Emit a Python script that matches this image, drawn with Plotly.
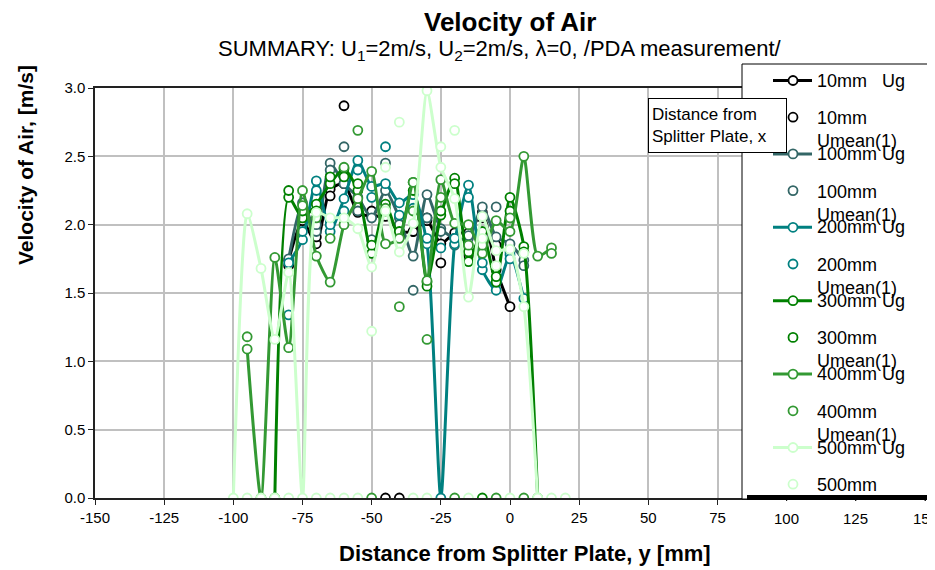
import plotly.graph_objects as go

N = None
y_mm = [-100, -95, -90, -85, -80, -75, -70, -65, -60, -55, -50, -45, -40,
        -35, -30, -25, -20, -15, -10, -5, 0, 5, 10, 15, 20]

ug_10 = [N, N, N, N, 1.74, 2.03, 1.86, 2.26, 2.30, 2.09, 2.06, 2.06, 1.95,
         1.95, 2.03, 1.86, 1.94, 1.94, 2.09, 1.67, 1.40, N, N, N, N]
um_10 = [N, N, N, N, 1.70, 2.08, 1.91, 2.21, 2.87, 2.15, 2.10, 0, 0,
         1.95, 2.05, 1.72, 1.90, 1.77, 2.05, 1.85, N, N, N, N, N]
ug_100 = [N, N, N, N, 1.75, 2.16, 1.95, 2.45, 2.30, 2.20, 2.05, 2.25, 2.05,
          1.77, 2.22, 1.97, 1.90, 1.90, 2.13, 1.91, 1.86, 1.74, N, N, N]
um_100 = [N, N, N, N, N, 2.07, 2.00, 2.40, 2.57, 2.10, 1.89, 2.45, 2.00,
          1.52, 2.05, 1.95, 1.85, 1.92, 1.91, 2.13, 1.80, 1.70, N, N, N]
ug_200 = [N, N, N, N, 1.72, 1.89, 2.32, 1.95, 2.19, 2.47, 2.28, 2.30, 2.16,
          2.22, 1.86, 0, 1.86, 2.29, 1.67, 1.52, 1.78, 1.46, N, N, N]
um_200 = [N, N, N, N, 1.34, 1.95, 2.25, 2.00, 2.10, 2.40, 2.20, 2.57, 2.07,
          2.12, 1.90, 1.83, 1.90, 2.20, 1.72, 1.58, 1.75, N, N, N, N]
ug_300 = [N, N, N, 0, 2.20, 2.05, 2.15, 2.30, 2.41, 2.25, 1.79, 2.15, 1.91,
          2.31, 1.58, 2.07, 2.34, 1.73, 1.95, 1.58, 2.20, 1.84, 0, N, N]
um_300 = [N, N, N, N, 2.25, 2.10, 2.10, 2.35, 2.35, 2.30, 1.85, 2.10, 1.95,
          2.25, 1.55, 2.10, 2.30, 1.80, 0, 1.62, 2.10, 1.80, N, N, N]
ug_400 = [N, 1.09, 0, 1.76, 1.10, 2.25, 1.77, 1.58, 2.00, 2.19, 2.39, 1.86, 1.90,
          2.31, 1.59, 2.33, 2.01, 2.00, 1.79, 2.03, 1.95, 2.50, 1.77, 1.83, N]
um_400 = [N, 1.18, N, N, N, 2.14, 2.05, 1.90, 2.42, 2.69, 0, 2.12, 1.40,
          2.10, 1.16, 2.20, 0, 1.85, 1.85, 0, 2.05, 0, N, 1.79, N]
ug_500 = [0, 2.08, 1.68, 1.16, 1.65, 0, 2.09, 2.05, 2.05, 1.97, 1.69, 2.10, 1.80,
          2.01, 2.98, 2.42, 2.19, 1.47, 2.06, 1.81, 1.82, 1.40, 0, N, N]
um_500 = [N, 0, 0, 0, 0, N, 0, 0, 0, 0, 1.22, 2.42, 2.75,
          0, 0, 2.57, 2.69, 0, 1.90, 1.70, 0, 1.79, 0, 0, 0]

x_ticks = [-150, -125, -100, -75, -50, -25, 0, 25, 50, 75, 100, 125, 150]
x_tick_text = ["-150", "-125", "-100", "-75", "-50", "-25", "0", "25", "50",
               "75", "100", "125", "150"]

series = [
    ("10mm\u00a0\u00a0 Ug", ug_10, "#000000", True),
    ("10mm<br>Umean(1)", um_10, "#000000", False),
    ("100mm Ug", ug_100, "#336666", True),
    ("100mm<br>Umean(1)", um_100, "#336666", False),
    ("200mm Ug", ug_200, "#008080", True),
    ("200mm<br>Umean(1)", um_200, "#008080", False),
    ("300mm Ug", ug_300, "#008000", True),
    ("300mm<br>Umean(1)", um_300, "#008000", False),
    ("400mm Ug", ug_400, "#339933", True),
    ("400mm<br>Umean(1)", um_400, "#339933", False),
    ("500mm Ug", ug_500, "#CCFFCC", True),
    ("500mm<br>Umean(1)", um_500, "#CCFFCC", False),
]

FONT = "Liberation Sans, Arial, sans-serif"
OFF = 8                       # page body margin
W, H = 935 - OFF, 570 - OFF
# plot area in page pixels
P_L, P_R, P_T, P_B = 95, 925, 88, 498
L, R, T, B = P_L - OFF, W - (P_R - OFF), P_T - OFF, H - (P_B - OFF)
PW, PH = W - L - R, H - T - B
LEG_X = 742                   # page x of legend box left edge


def px(xp):   # page x pixel -> paper
    return (xp - OFF - L) / PW


def py(yp):   # page y pixel -> paper
    return (H - B - (yp - OFF)) / PH


def data_to_page_x(v):
    return P_L + (v + 150) / 300 * (P_R - P_L)


under_legend = [data_to_page_x(tv) > LEG_X - 15 for tv in x_ticks]
axis_tick_text = ["" if u else t for t, u in zip(x_tick_text, under_legend)]

fig = go.Figure()
for name, vals, col, is_line in series:
    xs = [x for x, v in zip(y_mm, vals) if v is not None]
    ys = [v for v in vals if v is not None]
    fig.add_trace(go.Scatter(
        x=xs, y=ys, name=name,
        mode="lines+markers" if is_line else "markers",
        line=dict(color=col, width=3, shape="spline", smoothing=0.6),
        marker=dict(symbol="circle", size=9, color="white",
                    line=dict(color=col, width=1.8)),
        showlegend=False,
    ))

shapes = []
shapes.append(dict(type="line", xref="x", yref="y", x0=0, x1=0, y0=0, y1=3,
                   line=dict(color="#505050", width=1.3, dash="dash"), layer="below"))
for yv in [0.5, 1.0, 1.5, 2.0, 2.5]:
    shapes.append(dict(type="line", xref="x", yref="y", x0=-1.3, x1=0, y0=yv, y1=yv,
                       line=dict(color="#303030", width=1.2), layer="below"))

# custom legend box
shapes.append(dict(type="rect", xref="paper", yref="paper",
                   x0=px(LEG_X), x1=px(950), y0=py(499), y1=py(64),
                   fillcolor="white", line=dict(color="black", width=1), layer="above"))
annotations = []
cy0, step = 80.5, 36.7
r = 4.5
LF = dict(family=FONT, size=18, color="black")
for i, (name, vals, col, is_line) in enumerate(series):
    cy = cy0 + i * step
    if is_line:
        shapes.append(dict(type="line", xref="paper", yref="paper",
                           x0=px(773), x1=px(812), y0=py(cy), y1=py(cy),
                           line=dict(color=col, width=3), layer="above"))
    shapes.append(dict(type="circle", xref="paper", yref="paper",
                       x0=px(793 - r), x1=px(793 + r), y0=py(cy + r), y1=py(cy - r),
                       fillcolor="white", line=dict(color=col, width=1.8), layer="above"))
    if is_line:
        annotations.append(dict(xref="paper", yref="paper", x=px(815), y=py(cy),
                                xanchor="left", yanchor="middle", text=name, showarrow=False,
                                align="left", font=LF))
    else:
        annotations.append(dict(xref="paper", yref="paper", x=px(815), y=py(cy - 11),
                                xanchor="left", yanchor="top", text=name, showarrow=False,
                                align="left", font=LF))

# white cover under the legend (the legend is clipped at the plot bottom)
annotations.append(dict(xref="paper", yref="paper", x=px(LEG_X + 1), y=py(501),
                        xanchor="left", yanchor="top", text="\u00a0", showarrow=False,
                        width=200, height=34, borderpad=0, borderwidth=0,
                        bgcolor="white", font=dict(size=1)))
# black bar at bottom of legend
annotations.append(dict(xref="paper", yref="paper", x=px(747), y=py(495),
                        xanchor="left", yanchor="top", text="\u00a0", showarrow=False,
                        width=200, height=5, borderpad=0, borderwidth=0,
                        bgcolor="black", font=dict(size=1)))
# x tick labels that sit below the legend are drawn above the cover
for tv, tt, u in zip(x_ticks, x_tick_text, under_legend):
    if u:
        xp = data_to_page_x(tv)
        annotations.append(dict(xref="paper", yref="paper", x=px(xp), y=py(518),
                                xanchor="center", yanchor="middle", text=tt,
                                showarrow=False,
                                font=dict(family=FONT, size=15, color="black")))
        shapes.append(dict(type="line", xref="paper", yref="paper",
                           x0=px(xp), x1=px(xp), y0=py(498), y1=py(503),
                           line=dict(color="#222222", width=1), layer="above"))

# text box
annotations.append(dict(xref="paper", yref="paper", x=px(648), y=py(98),
                        xanchor="left", yanchor="top", showarrow=False,
                        text="Distance from<br>Splitter Plate, x", align="left",
                        width=131, height=47, borderpad=3, borderwidth=1,
                        bordercolor="black", bgcolor="white", valign="middle",
                        font=dict(family=FONT, size=17, color="black")))
# title and subtitle
annotations.append(dict(xref="paper", yref="paper", x=px(510), y=py(22),
                        xanchor="center", yanchor="middle", showarrow=False,
                        text="<b>Velocity of Air</b>",
                        font=dict(family=FONT, size=26, color="black")))
annotations.append(dict(xref="paper", yref="paper", x=px(500), y=py(50),
                        xanchor="center", yanchor="middle", showarrow=False,
                        text="SUMMARY: U<sub>1</sub>=2m/s, U<sub>2</sub>=2m/s, \u03bb=0, /PDA measurement/",
                        font=dict(family=FONT, size=22, color="black")))
# axis titles
annotations.append(dict(xref="paper", yref="paper", x=px(525), y=py(553),
                        xanchor="center", yanchor="middle", showarrow=False,
                        text="<b>Distance from Splitter Plate, y [mm]</b>",
                        font=dict(family=FONT, size=22, color="black")))
annotations.append(dict(xref="paper", yref="paper", x=px(26), y=py(165),
                        xanchor="center", yanchor="middle", showarrow=False, textangle=-90,
                        text="<b>Velocity of Air, [m/s]</b>",
                        font=dict(family=FONT, size=21, color="black")))

fig.update_layout(
    width=W, height=H,
    margin=dict(l=L, r=R, t=T, b=B, autoexpand=False),
    paper_bgcolor="white", plot_bgcolor="white",
    font=dict(family=FONT, size=15, color="black"),
    shapes=shapes, annotations=annotations,
    showlegend=False,
)
fig.update_xaxes(
    range=[-150, 150], tickmode="array", tickvals=x_ticks, ticktext=axis_tick_text,
    showgrid=True, gridcolor="#C0C0C0", gridwidth=1.5,
    showline=True, linecolor="#222222", linewidth=1.5, mirror=True,
    ticks="outside", ticklen=5, tickcolor="#222222", zeroline=False,
    tickfont=dict(family=FONT, size=15, color="black"),
)
fig.update_yaxes(
    range=[0, 3], tickmode="linear", tick0=0, dtick=0.5, tickformat=".1f",
    showgrid=True, gridcolor="#C0C0C0", gridwidth=1.5,
    showline=True, linecolor="#222222", linewidth=1.5, mirror=True,
    ticks="outside", ticklen=5, tickcolor="#222222", zeroline=False,
    tickfont=dict(family=FONT, size=15, color="black"),
)

fig.write_html("out.html")
